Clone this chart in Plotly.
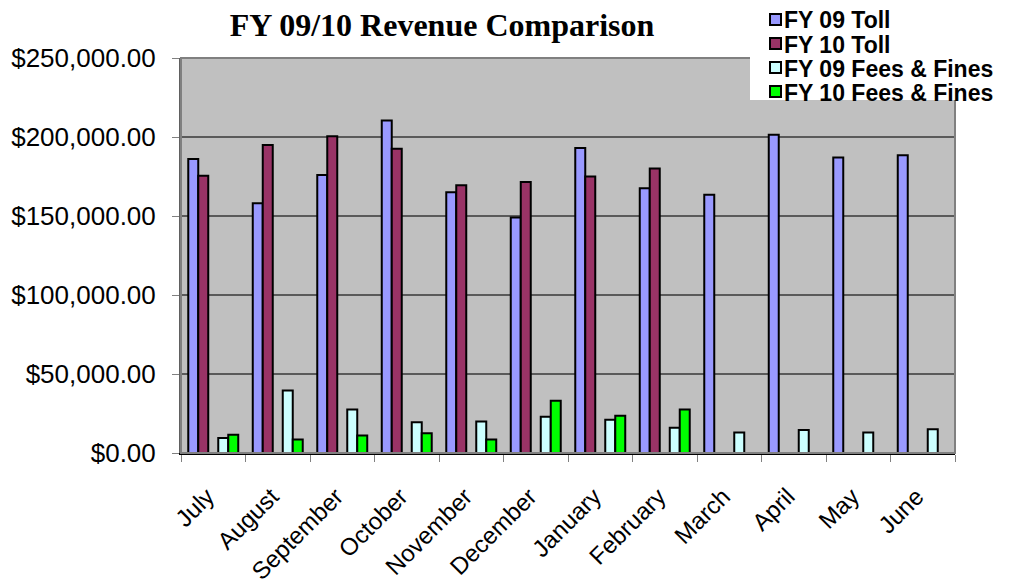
import plotly.graph_objects as go

months = ["July", "August", "September", "October", "November", "December",
          "January", "February", "March", "April", "May", "June"]
fy09_toll = [186000, 158000, 176000, 210500, 165000, 149000, 193000, 167500, 163500, 201500, 187000, 188500]
fy10_toll = [175500, 195000, 200500, 192500, 169500, 171500, 175000, 180000, None, None, None, None]
fy09_fees = [9500, 39500, 27500, 19500, 20000, 23000, 21000, 16000, 13000, 14500, 13000, 15000]
fy10_fees = [11500, 8500, 11000, 12500, 8500, 33000, 23500, 27500, None, None, None, None]

series_names = ["FY 09 Toll", "FY 10 Toll", "FY 09 Fees & Fines", "FY 10 Fees & Fines"]
series_values = [fy09_toll, fy10_toll, fy09_fees, fy10_fees]
series_colors = ["#9999FF", "#993366", "#CCFFFF", "#00FF00"]
series_offsets = [-0.3875, -0.2325, 0.0775, 0.2325]

W, H = 1010, 586
# page body has an 8px margin; work in screen pixels and convert
OFF = 8
PL, PR, PT, PB = 181, 955, 58, 453  # plot area in screen px
L, T = PL - OFF, PT - OFF
R, B = W - (PR - OFF), H - (PB - OFF)
pw, ph = PR - PL, PB - PT


def px_x(px):
    return (px - PL) / pw


def px_y(py):
    return (PB - py) / ph


fig = go.Figure()
for name, vals, color, off in zip(series_names, series_values, series_colors, series_offsets):
    fig.add_trace(go.Bar(
        x=months, y=vals, name=name,
        marker=dict(color=color, line=dict(color="black", width=2)),
        width=0.155, offset=off, showlegend=False,
    ))

shapes = [dict(type="rect", xref="paper", yref="paper", x0=0, x1=1, y0=0, y1=1,
               line=dict(color="#808080", width=2), fillcolor="rgba(0,0,0,0)", layer="above")]
# legend box
shapes.append(dict(type="rect", xref="paper", yref="paper",
                   x0=px_x(750), x1=px_x(1015), y0=px_y(100), y1=px_y(-5),
                   line=dict(width=0), fillcolor="white", layer="above"))
annotations = []
row_y = [19.5, 43.5, 67.5, 91.5]
for name, color, ry in zip(series_names, series_colors, row_y):
    shapes.append(dict(type="rect", xref="paper", yref="paper",
                       x0=px_x(770), x1=px_x(781), y0=px_y(ry + 5.5), y1=px_y(ry - 5.5),
                       line=dict(color="black", width=2), fillcolor=color, layer="above"))
    annotations.append(dict(text="<b>%s</b>" % name, xref="paper", yref="paper",
                            x=px_x(782), y=px_y(ry + 1), xanchor="left", yanchor="middle",
                            showarrow=False,
                            font=dict(size=23, family="Liberation Sans, Arial, sans-serif", color="black")))

fig.update_layout(
    width=W, height=H,
    barmode="overlay",
    margin=dict(l=L, r=R, t=T, b=B, autoexpand=False),
    paper_bgcolor="white",
    plot_bgcolor="#C0C0C0",
    font=dict(family="Liberation Sans, Arial, sans-serif", color="black"),
    title=dict(text="<b>FY 09/10 Revenue Comparison</b>",
               font=dict(family="Liberation Serif, Times New Roman, serif", size=32, color="black"),
               x=(442 - OFF) / W, xanchor="center", xref="container",
               y=1 - (25 - OFF) / H, yanchor="middle", yref="container"),
    showlegend=False,
    shapes=shapes,
    annotations=annotations,
)

fig.update_xaxes(
    type="category",
    tickangle=-45,
    tickfont=dict(size=24),
    ticks="outside", tickson="boundaries", ticklen=7, tickcolor="#808080", tickwidth=1,
    ticklabelshift=-6, ticklabelstandoff=18,
    showline=True, linecolor="black", linewidth=2,
    showgrid=False,
)
fig.update_yaxes(
    range=[0, 250000], dtick=50000,
    tickprefix="$", tickformat=",.2f",
    tickfont=dict(size=26),
    ticks="outside", ticklen=7, tickcolor="#808080", tickwidth=1,
    ticklabelstandoff=11,
    showline=True, linecolor="#606060", linewidth=2,
    showgrid=True, gridcolor="#5A5A5A", gridwidth=1.5,
    zeroline=False,
)

fig.write_html("out.html")
